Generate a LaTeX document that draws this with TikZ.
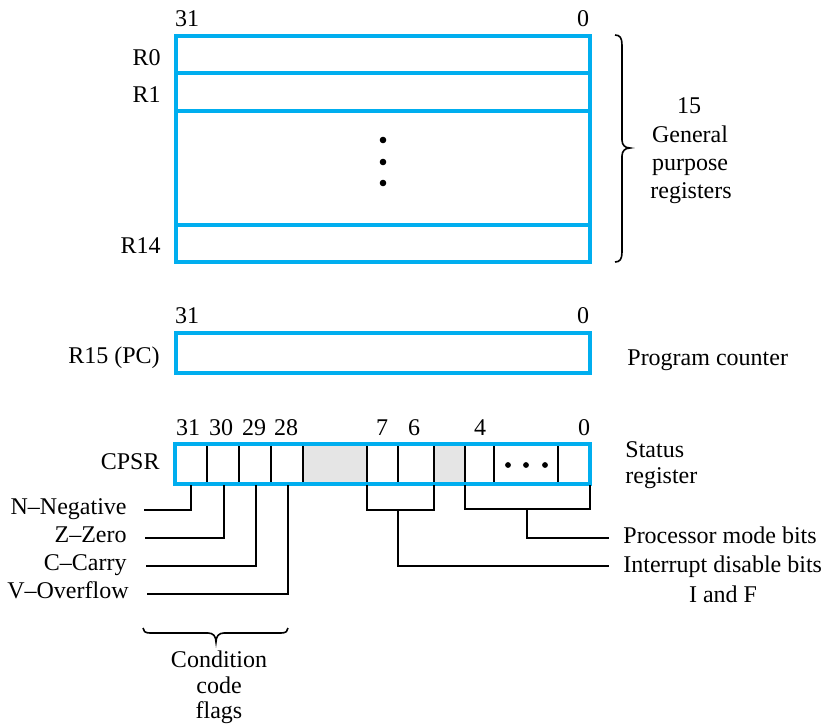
\documentclass[tikz,border=0pt]{standalone}
\usepackage{fontspec}
\setmainfont{Liberation Serif}
\definecolor{regblue}{RGB}{0,174,239}
\definecolor{cellgray}{RGB}{229,229,229}
\begin{document}
\begin{tikzpicture}[x=0.5pt,y=-0.5pt,
  txt/.style={inner sep=0pt, font=\fontsize{12}{14}\selectfont},
  reg/.style={draw=regblue, line width=2pt},
  wire/.style={draw=black, line width=0.8pt},
  cellline/.style={draw=black, line width=0.8pt},
  bigdot/.style={circle, fill=black, inner sep=0pt, minimum size=3.3pt},
  smalldot/.style={circle, fill=black, inner sep=0pt, minimum size=2.9pt}]
\useasboundingbox (0,0) rectangle (823,723);

% ---------- general purpose registers ----------
\node[txt, anchor=base] (g31) at (187,26) {31};
\node[txt, anchor=base] (g0) at (583,26) {0};
\draw[reg] (175.5,35.5) rectangle (590,262);
\draw[reg] (175.5,73) -- (590,73);
\draw[reg] (175.5,111) -- (590,111);
\draw[reg] (175.5,225) -- (590,225);
\node[txt, anchor=base east] (r0) at (161,65) {R0};
\node[txt, anchor=base east] (r1) at (161,102) {R1};
\node[txt, anchor=base east] (r14) at (161,253) {R14};
\node[bigdot] (d1) at (383,140) {};
\node[bigdot] (d2) at (383,162) {};
\node[bigdot] (d3) at (383,183) {};

% brace
\draw[wire] (615,35) .. controls (620,35) and (622,38) .. (622,45) -- (622,140)
  .. controls (622,145) and (625,148) .. (630,148)
  .. controls (625,148) and (622,151) .. (622,156) -- (622,252)
  .. controls (622,259) and (620,262) .. (615,262);
\node[txt, anchor=base] (gp1) at (689,113) {15};
\node[txt, anchor=base] (gp2) at (690,142) {General};
\node[txt, anchor=base] (gp3) at (690,170) {purpose};
\node[txt, anchor=base] (gp4) at (691,198) {registers};

% ---------- program counter ----------
\node[txt, anchor=base] (p31) at (187,323) {31};
\node[txt, anchor=base] (p0) at (583,323) {0};
\draw[reg] (175.5,333) rectangle (590,373);
\node[txt, anchor=base east] (r15) at (160,363) {R15 (PC)};
\node[txt, anchor=base west] (pc) at (627,365) {Program counter};

% ---------- CPSR ----------
\fill[cellgray] (303,444) rectangle (367,483.5);
\fill[cellgray] (434,444) rectangle (465,483.5);
\foreach \x in {207,239,271,303,367,398,434,465,494,558}
  \draw[cellline] (\x,444) -- (\x,483.5);
\draw[reg] (175,444) rectangle (590,483.5);
\node[smalldot] (cd1) at (508,465) {};
\node[smalldot] (cd2) at (526,465) {};
\node[smalldot] (cd3) at (545,465) {};

\node[txt, anchor=base] (b31) at (188,435) {31};
\node[txt, anchor=base] (b30) at (221,435) {30};
\node[txt, anchor=base] (b29) at (254,435) {29};
\node[txt, anchor=base] (b28) at (286,435) {28};
\node[txt, anchor=base] (b7) at (382,435) {7};
\node[txt, anchor=base] (b6) at (414,435) {6};
\node[txt, anchor=base] (b4) at (480,435) {4};
\node[txt, anchor=base] (b0) at (584,435) {0};

\node[txt, anchor=base east] (cpsr) at (160,469) {CPSR};
\node[txt, anchor=base west] (st1) at (625,457) {Status};
\node[txt, anchor=base west] (st2) at (625,483) {register};

% cell bottoms
\coordinate (c31) at (191,485);
\coordinate (c30) at (224,485);
\coordinate (c29) at (256,485);
\coordinate (c28) at (288,485);
\coordinate (c7l) at (367,485);
\coordinate (c6r) at (434,485);
\coordinate (c4l) at (465,485);
\coordinate (c0r) at (590,485);

% condition flag labels
\node[txt, anchor=base east] (nneg) at (127,514) {N–Negative};
\node[txt, anchor=base east] (zzero) at (127,542) {Z–Zero};
\node[txt, anchor=base east] (ccarry) at (127,570) {C–Carry};
\node[txt, anchor=base east] (vover) at (129,598) {V–Overflow};
\coordinate (nL) at (144,510);
\coordinate (zL) at (145,538);
\coordinate (cL) at (146,566);
\coordinate (vL) at (147,594);
\draw[wire] (c31) |- (nL);
\draw[wire] (c30) |- (zL);
\draw[wire] (c29) |- (cL);
\draw[wire] (c28) |- (vL);

% interrupt and mode brackets
\coordinate (ibar) at (398,510);
\coordinate (mbar) at (527,509);
\draw[wire] (c7l) -- (367,510) -- (434,510) -- (c6r);
\draw[wire] (c4l) -- (465,509) -- (590,509) -- (c0r);
\coordinate (mR) at (609,538);
\coordinate (iR) at (609,566);
\draw[wire] (mbar) |- (mR);
\draw[wire] (ibar) |- (iR);
\node[txt, anchor=base west] (pmode) at (623,543) {Processor mode bits};
\node[txt, anchor=base west] (idis) at (623,572) {Interrupt disable bits};
\node[txt, anchor=base] (iandf) at (723,602) {I and F};

% condition code brace
\draw[wire] (143,628) .. controls (143,631) and (145,633) .. (150,633) -- (208,633)
  .. controls (213,633) and (216,636) .. (216,642)
  .. controls (216,636) and (219,633) .. (224,633) -- (281,633)
  .. controls (286,633) and (288,631) .. (288,628);
\node[txt, anchor=base] (cc1) at (219,667) {Condition};
\node[txt, anchor=base] (cc2) at (219,693) {code};
\node[txt, anchor=base] (cc3) at (219,718) {flags};
\end{tikzpicture}
\end{document}
